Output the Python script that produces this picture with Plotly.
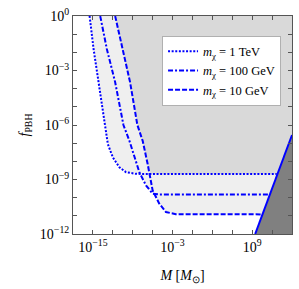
import numpy as np
import plotly.graph_objects as go

# ---- data (log10 values) ----
logM_1TeV = [-15.5, -14.9, -14.15, -13.25, -12.75, -12.0, -11.0, -10.0, -8.5, 12.7]
logf_1TeV = [0.0, -1.82, -3.64, -6.0, -7.05, -7.78, -8.33, -8.6, -8.69, -8.7]

logM_100GeV = [-13.9, -12.9, -11.65, -10.4, -9.5, -8.75, -8.0, -7.0, -6.0, -5.0, 11.6]
logf_100GeV = [0.0, -1.82, -3.64, -6.0, -6.87, -7.78, -8.6, -9.33, -9.78, -9.82, -9.82]

logM_10GeV = [-11.65, -10.5, -9.4, -8.3, -7.5, -6.75, -6.0, -5.0, -4.0, -2.5, 10.5]
logf_10GeV = [0.0, -1.82, -3.64, -6.0, -6.87, -8.15, -9.6, -10.33, -10.79, -10.91, -10.92]

# bound line (solid blue) endpoints
logM_bound = [9.45, 15.0]
logf_bound = [-12.0, -6.55]

labels = ["<i>m</i><sub>χ</sub> = 1 TeV", "<i>m</i><sub>χ</sub> = 100 GeV", "<i>m</i><sub>χ</sub> = 10 GeV"]

x_minor_exp = list(range(-18, 16, 3))
x_label_exp = [-15, -3, 9]
y_minor_exp = list(range(-12, 1))
y_label_exp = [0, -3, -6, -9, -12]

XMIN, XMAX, YMIN, YMAX = -18, 15, -12, 0

def sup(e):
    s = str(e).replace("-", "−")
    return f"10<sup>{s}</sup>"

curves = [(logM_1TeV, logf_1TeV), (logM_100GeV, logf_100GeV), (logM_10GeV, logf_10GeV)]

grid = np.linspace(XMIN, XMAX, 1500)
Fs = np.array([np.interp(grid, np.array(m), np.array(f), left=0.5) for m, f in curves])
Fmin = np.clip(Fs.min(axis=0), YMIN, YMAX)
Fmax = np.clip(Fs.max(axis=0), YMIN, YMAX)

fig = go.Figure()

def poly(xs_log, ys_log, color):
    xs = list(xs_log) + [XMAX, XMIN]
    ys = list(ys_log) + [YMAX, YMAX]
    fig.add_trace(go.Scatter(x=10.0 ** np.array(xs), y=10.0 ** np.array(ys), mode="lines",
                             fill="toself", fillcolor=color, line=dict(width=0),
                             showlegend=False, hoverinfo="skip"))

poly(grid, Fmin, "#efefef")
poly(grid, Fmax, "#d9d9d9")

# dark triangle right of the bound
tx = [logM_bound[0], logM_bound[1], XMAX, logM_bound[0]]
ty = [logf_bound[0], logf_bound[1], YMIN, logf_bound[0]]
fig.add_trace(go.Scatter(x=10.0 ** np.array(tx), y=10.0 ** np.array(ty), mode="lines",
                         fill="toself", fillcolor="#808080", line=dict(width=0),
                         showlegend=False, hoverinfo="skip"))

dashes = ["2px,1.6px", "5px,2px,2px,2px", "5px,2px"]
for (m, f), lab, d in zip(curves, labels, dashes):
    fig.add_trace(go.Scatter(x=10.0 ** np.array(m), y=10.0 ** np.array(f), mode="lines",
                             name=lab, line=dict(color="#0000ff", width=2, dash=d)))

fig.add_trace(go.Scatter(x=10.0 ** np.array(logM_bound), y=10.0 ** np.array(logf_bound),
                         mode="lines", line=dict(color="#0000ff", width=2), showlegend=False))

fig.update_layout(
    width=299, height=289,
    margin=dict(l=73, r=6, t=14, b=55),
    plot_bgcolor="white", paper_bgcolor="white",
    font=dict(family="Liberation Serif", size=14, color="black"),
    legend=dict(x=0.95, xanchor="right", y=0.91, yanchor="top",
                bgcolor="white", bordercolor="#b0b0b0", borderwidth=1,
                font=dict(size=12.5), itemwidth=30, tracegroupgap=0),
)
axis_common = dict(type="log", ticks="inside", ticklen=4, tickcolor="#555", showline=True,
                   linecolor="#555", linewidth=1, mirror="ticks", showgrid=False, zeroline=False)
fig.update_xaxes(range=[XMIN, XMAX],
                 tickvals=[10.0 ** e for e in x_label_exp],
                 ticktext=[sup(e) for e in x_label_exp],
                 minor=dict(tickvals=[10.0 ** e for e in x_minor_exp], ticks="inside",
                            ticklen=4, tickcolor="#555", showgrid=False),
                 title=dict(text="<i>M</i> [<i>M</i><sub>⊙</sub>]", standoff=16, font=dict(size=14)),
                 **axis_common)
fig.update_yaxes(range=[YMIN, YMAX],
                 tickvals=[10.0 ** e for e in y_label_exp],
                 ticktext=[sup(e) for e in y_label_exp],
                 minor=dict(tickvals=[10.0 ** e for e in y_minor_exp], ticks="inside",
                            ticklen=4, tickcolor="#555", showgrid=False),
                 title=dict(text="<i>f</i><sub>PBH</sub>", standoff=6, font=dict(size=14)),
                 **axis_common)

fig.write_html("out.html", config={"displayModeBar": False},
               post_script="document.body.style.margin='0';")
